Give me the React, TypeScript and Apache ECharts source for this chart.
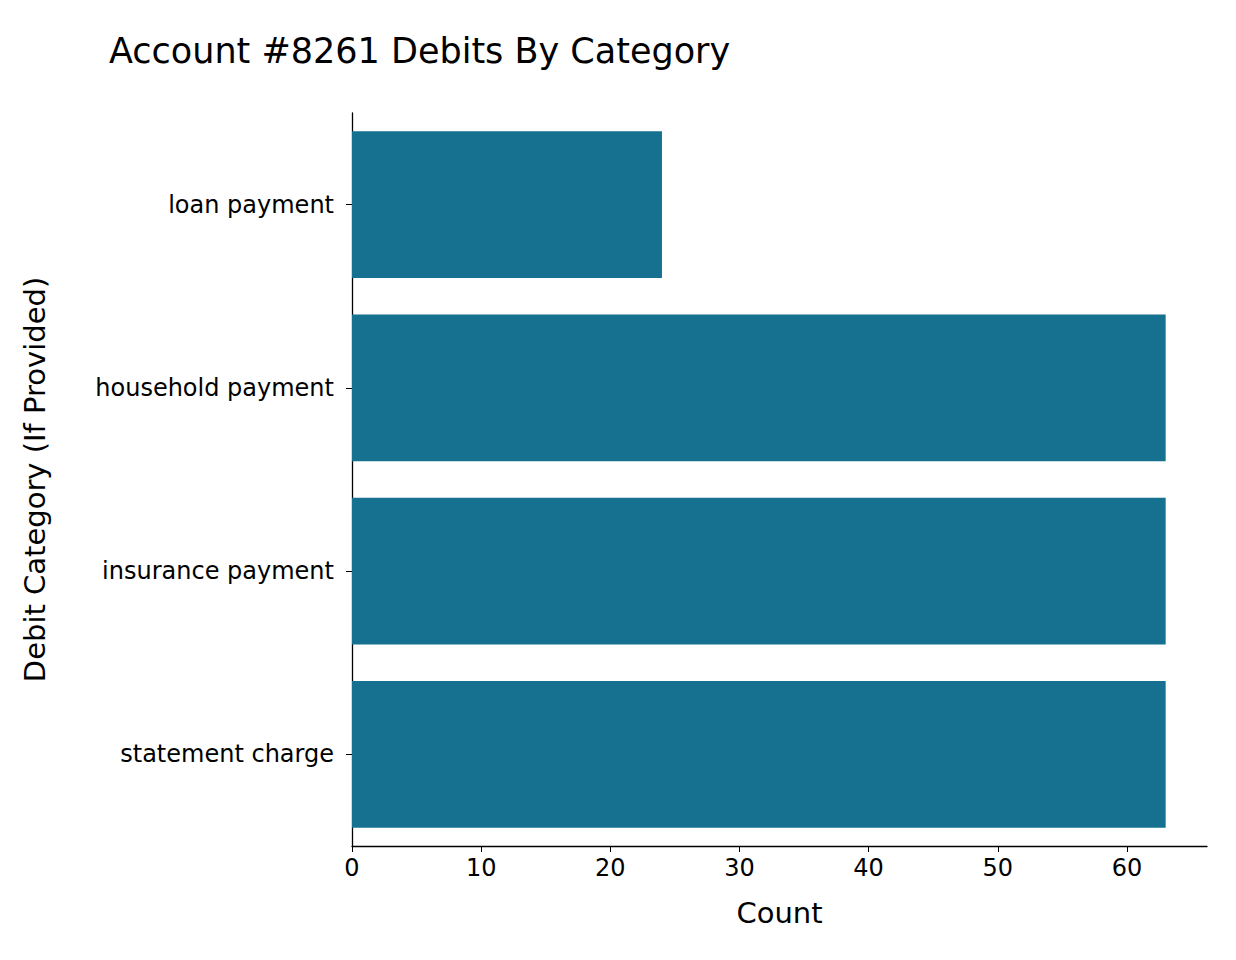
import React, { useEffect, useRef } from "react";
import * as echarts from "echarts";

const categories = ["loan payment", "household payment", "insurance payment", "statement charge"];
const counts = [24, 63, 63, 63];
const xTicksMax = 66.2;

export default function App() {
  const ref = useRef<HTMLDivElement>(null);
  useEffect(() => {
    document.body.style.margin = "0";
    const chart = echarts.init(ref.current!, null, { renderer: "svg" });
    const font = "DejaVu Sans";
    chart.setOption({
      animation: false,
      title: {
        text: "Account #8261 Debits By Category",
        left: 104,
        top: 28,
        textStyle: { fontFamily: font, fontSize: 35, fontWeight: "normal", color: "#000" },
      },
      grid: { left: 352, right: 29, top: 113, bottom: 114 },
      xAxis: {
        type: "value",
        min: 0,
        max: xTicksMax,
        interval: 10,
        name: "Count",
        nameLocation: "middle",
        nameGap: 52,
        nameTextStyle: { fontFamily: font, fontSize: 29, color: "#000" },
        axisLine: { show: true, lineStyle: { color: "#000", width: 1.3 } },
        axisTick: { show: true, length: 6, lineStyle: { color: "#000" } },
        axisLabel: { fontFamily: font, fontSize: 24, color: "#000", margin: 10, showMaxLabel: false },
        splitLine: { show: false },
      },
      yAxis: {
        type: "category",
        data: categories,
        inverse: true,
        name: "Debit Category (If Provided)",
        nameLocation: "middle",
        nameGap: 303,
        nameTextStyle: { fontFamily: font, fontSize: 29, color: "#000" },
        axisLine: { show: true, lineStyle: { color: "#000", width: 1.3 } },
        axisTick: { show: true, alignWithLabel: true, length: 6, lineStyle: { color: "#000" } },
        axisLabel: { fontFamily: font, fontSize: 24, color: "#000", margin: 18 },
      },
      series: [
        {
          type: "bar",
          data: counts,
          barCategoryGap: "20%",
          itemStyle: { color: "#167191" },
        },
      ],
    });
    return () => chart.dispose();
  }, []);
  return <div ref={ref} style={{ width: 1236, height: 960 }} />;
}
